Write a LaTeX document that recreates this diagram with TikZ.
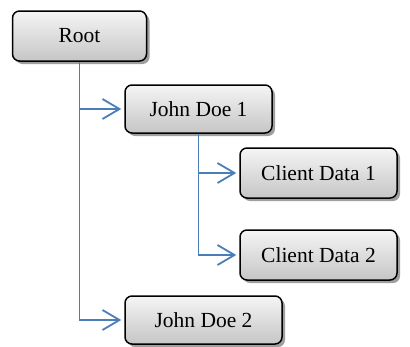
\documentclass[tikz,border=0pt]{standalone}
\usepackage{fontspec}
\setmainfont{Liberation Serif}
\usetikzlibrary{arrows.meta,shadows}
\definecolor{linkblue}{HTML}{4A7EBB}
\tikzset{
  x=1pt, y=-1pt,
  treebox/.style={draw=black, line width=1.5pt, rounded corners=7pt,
    top color=gray!8, bottom color=gray!45,
    drop shadow={shadow xshift=3pt, shadow yshift=-3pt, fill=gray!75, opacity=1},
    font=\fontsize{21.5}{25}\selectfont, inner sep=0pt},
  link/.style={draw=linkblue, line width=1.8pt},
  linkarrow/.style={link, -{Straight Barb[length=17pt,width=20pt,line width=1.8pt]}, shorten >=3pt}
}
\begin{document}
\begin{tikzpicture}
\useasboundingbox (0,0) rectangle (410,346);
\node[treebox, minimum width=134pt, minimum height=50pt] (root) at (79.5,36) {Root};
\node[treebox, minimum width=147pt, minimum height=48pt] (jd1) at (198.5,109) {John Doe 1};
\node[treebox, minimum width=157pt, minimum height=50pt] (cd1) at (318.5,173) {Client Data 1};
\node[treebox, minimum width=157pt, minimum height=50pt] (cd2) at (318.5,255) {Client Data 2};
\node[treebox, minimum width=157pt, minimum height=48pt] (jd2) at (203.5,320) {John Doe 2};
% connectors from the root
\draw[linkarrow] (root.south) |- (jd2.west);
\draw[linkarrow] (root.south |- jd1.west) -- (jd1.west);
% connectors from John Doe 1
\draw[linkarrow] (jd1.south) |- (cd2.west);
\draw[linkarrow] (jd1.south |- cd1.west) -- (cd1.west);
\end{tikzpicture}
\end{document}
